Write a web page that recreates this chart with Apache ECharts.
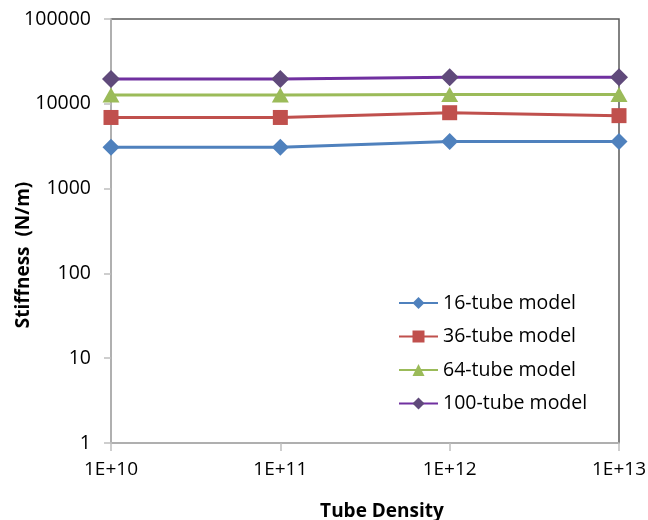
<!DOCTYPE html>
<html>
<head>
<meta charset="utf-8">
<script src="https://cdn.jsdelivr.net/npm/echarts@6/dist/echarts.min.js"></script>
<style>
html,body{margin:0;padding:0;background:#fff;}
#c{width:648px;height:520px;}
</style>
</head>
<body>
<div id="c"></div>
<script>
var categories = ['1E+10', '1E+11', '1E+12', '1E+13'];
var yTicks = [1, 10, 100, 1000, 10000, 100000];
var seriesNames = ['16-tube model', '36-tube model', '64-tube model', '100-tube model'];
var tube16 = [3070, 3070, 3600, 3600];
var tube36 = [6900, 6900, 7850, 7250];
var tube64 = [12700, 12700, 12900, 12900];
var tube100 = [19600, 19600, 20500, 20500];

var FONT = '"Open Sans", "Liberation Sans", sans-serif';
var chart = echarts.init(document.getElementById('c'), null, {renderer: 'canvas'});

function mk(name, data, lineColor, markColor, symbol, size) {
  return {
    name: name,
    type: 'line',
    data: data,
    symbol: symbol,
    symbolSize: size,
    showAllSymbol: true,
    lineStyle: {color: lineColor, width: 3},
    itemStyle: {color: markColor, borderWidth: 0},
    emphasis: {disabled: true},
    animation: false
  };
}

chart.setOption({
  animation: false,
  backgroundColor: '#fff',
  grid: {
    left: 111, right: 29, top: 19, bottom: 77,
    containLabel: false,
    outerBoundsMode: 'none',
    show: true, borderColor: '#595959', borderWidth: 1.5, backgroundColor: 'transparent'
  },
  legend: {
    orient: 'vertical',
    left: 393, top: 288,
    itemWidth: 39, itemHeight: 15, itemGap: 13.5,
    textStyle: {fontFamily: FONT, fontSize: 19.5, color: '#000', lineHeight: 20},
    data: seriesNames
  },
  xAxis: {
    type: 'category',
    data: categories,
    boundaryGap: false,
    name: 'Tube Density',
    nameLocation: 'middle',
    nameGap: 59,
    nameMoveOverlap: false,
    nameTextStyle: {fontFamily: FONT, fontSize: 19, fontWeight: 'bold', color: '#000', padding: [0, 0, 0, 34]},
    axisLine: {show: true, lineStyle: {color: '#BFBFBF', width: 1.5}},
    axisTick: {show: true, alignWithLabel: true, length: 8, lineStyle: {color: '#BFBFBF', width: 1.5}},
    axisLabel: {fontFamily: FONT, fontSize: 19, color: '#000', margin: 17},
    splitLine: {show: false}
  },
  yAxis: {
    type: 'log',
    logBase: 10,
    min: yTicks[0],
    max: yTicks[yTicks.length - 1],
    name: 'Stiffness  (N/m)',
    nameLocation: 'middle',
    nameGap: 78,
    nameMoveOverlap: false,
    nameTextStyle: {fontFamily: FONT, fontSize: 19, fontWeight: 'bold', color: '#000', padding: [0, 48, 0, 0]},
    axisLine: {show: true, lineStyle: {color: '#BFBFBF', width: 1.5}},
    axisTick: {show: true, inside: false, length: 7, lineStyle: {color: '#BFBFBF', width: 1.5}},
    axisLabel: {fontFamily: FONT, fontSize: 19.5, color: '#000', margin: 20,
      formatter: function (v) { return String(Math.round(v)); }},
    splitLine: {show: false}
  },
  series: [
    mk(seriesNames[0], tube16, '#4F81BD', '#4F81BD', 'diamond', [17, 17]),
    mk(seriesNames[1], tube36, '#C0504D', '#C0504D', 'rect', [15, 15]),
    mk(seriesNames[2], tube64, '#9BBB59', '#9BBB59', 'triangle', [17, 15]),
    mk(seriesNames[3], tube100, '#7030A0', '#604A7B', 'diamond', [18, 18])
  ]
});
</script>
</body>
</html>
